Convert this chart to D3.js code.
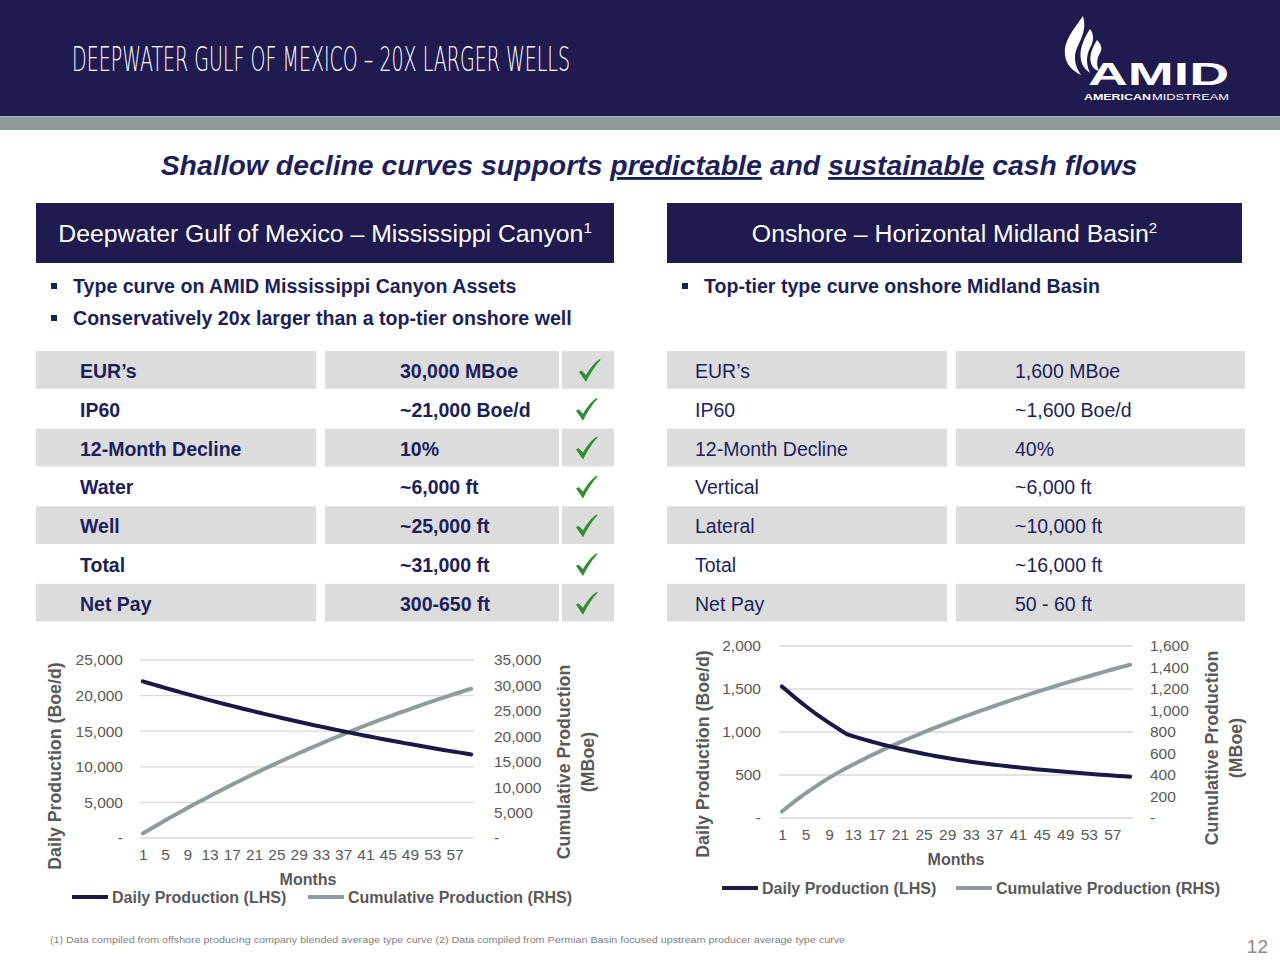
<!DOCTYPE html>
<html><head><meta charset="utf-8">
<script src="https://cdn.jsdelivr.net/npm/d3@7"></script>
<style>body{margin:0;background:#fff}svg{display:block}</style>
</head><body>
<svg id="slide" width="1280" height="960"></svg>
<script>
// ---------- DATA ----------
const months = d3.range(1, 61);
const monthTickLabels = [1,5,9,13,17,21,25,29,33,37,41,45,49,53,57];

const gomDaily = [22000,21770,21540,21310,21080,20860,20640,20420,20200,19990,
  19780,19570,19360,19160,18950,18750,18550,18360,18160,17970,
  17780,17590,17400,17220,17040,16860,16680,16500,16330,16150,
  15980,15810,15640,15480,15310,15150,14990,14830,14680,14520,
  14370,14210,14060,13910,13770,13620,13480,13330,13190,13050,
  12910,12780,12640,12510,12370,12240,12110,11990,11860,11730];
const gomCumulative = [900,1540,2180,2810,3440,4060,4670,5280,5880,6470,
  7060,7640,8220,8790,9350,9910,10460,11010,11550,12090,
  12620,13140,13660,14170,14680,15180,15680,16170,16660,17140,
  17620,18090,18560,19020,19480,19930,20380,20820,21260,21690,
  22120,22540,22960,23370,23780,24180,24580,24970,25360,25750,
  26130,26500,26870,27240,27600,27960,28310,28660,29010,29350];
const gomLeftTicks = [0,5000,10000,15000,20000,25000];
const gomRightTicks = [0,5000,10000,15000,20000,25000,30000,35000];

const midDaily = [1530,1470,1412,1356,1302,1250,1200,1152,1106,1062,
  1018,975,953,932,912,892,873,855,838,821,
  805,790,775,761,747,734,721,709,697,686,
  675,665,655,646,637,628,620,612,604,596,
  589,582,575,568,561,555,549,543,537,531,
  525,519,514,509,504,499,494,489,485,481];
const midCumulative = [60,105,148,189,229,267,304,339,373,406,
  437,467,496,524,552,579,605,631,656,680,
  704,728,751,774,797,819,841,862,883,904,
  925,945,965,985,1004,1023,1042,1061,1080,1098,
  1116,1134,1152,1170,1187,1204,1221,1238,1255,1271,
  1287,1303,1319,1335,1350,1366,1381,1396,1411,1426];
const midLeftTicks = [0,500,1000,1500,2000];
const midRightTicks = [0,200,400,600,800,1000,1200,1400,1600];

const gomRowLabels = ["EUR\u2019s","IP60","12-Month Decline","Water","Well","Total","Net Pay"];
const gomRowValues = ["30,000 MBoe","~21,000 Boe/d","10%","~6,000 ft","~25,000 ft","~31,000 ft","300-650 ft"];
const midRowLabels = ["EUR\u2019s","IP60","12-Month Decline","Vertical","Lateral","Total","Net Pay"];
const midRowValues = ["1,600 MBoe","~1,600 Boe/d","40%","~6,000 ft","~10,000 ft","~16,000 ft","50 - 60 ft"];

const legendLabels = ["Daily Production (LHS)","Cumulative Production (RHS)"];

// ---------- STYLE ----------
const NAVY = "#1f1a50", TXT = "#1d1f5c", GREY = "#595959", GRID = "#d9d9d9",
      LINE1 = "#1c1846", LINE2 = "#8f9b9d", ROWBG = "#dcdcdc", GREEN = "#2f8f2f";
const SANS = "'Liberation Sans', Arial, Helvetica, sans-serif";

const svg = d3.select("#slide");

// header
svg.append("rect").attr("x",0).attr("y",0).attr("width",1280).attr("height",116).attr("fill",NAVY);
svg.append("rect").attr("x",0).attr("y",116).attr("width",1280).attr("height",14).attr("fill","#8e999b");
svg.append("rect").attr("x",0).attr("y",116).attr("width",1280).attr("height",1.5).attr("fill","#a7b0b3");
svg.append("text").attr("x",72).attr("y",71)
  .attr("font-family","'DejaVu Sans', sans-serif").attr("font-weight",200)
  .attr("font-size",33).attr("fill","#fff")
  .attr("textLength",498).attr("lengthAdjust","spacingAndGlyphs")
  .text("DEEPWATER GULF OF MEXICO \u2013 20X LARGER WELLS");

// logo
const logo = svg.append("g").attr("fill","#fff");
logo.append("path").attr("d","M1083,16 C1073,30 1063,42 1065,55 C1066,65 1073,71 1081,75 C1075,66 1073,57 1077,48 C1081,39 1087,29 1083,16 Z");
logo.append("path").attr("d","M1090,29 C1083,40 1079,50 1081,60 C1082,66 1086,70 1090,73 C1086,64 1086,56 1090,48 C1094,41 1094,34 1090,29 Z");
logo.append("path").attr("d","M1097,40 C1092,48 1089,56 1091,63 C1092,67 1095,70 1099,71 C1096,64 1097,58 1100,53 C1103,49 1101,44 1097,40 Z");
logo.append("text").attr("x",1088).attr("y",85).attr("font-family",SANS)
  .attr("font-weight","bold").attr("font-size",32).attr("textLength",141).attr("lengthAdjust","spacingAndGlyphs").text("AMID");
logo.append("text").attr("x",1084).attr("y",100).attr("font-family",SANS).attr("font-size",8.5).attr("font-weight","bold")
  .attr("textLength",67).attr("lengthAdjust","spacingAndGlyphs").text("AMERICAN");
logo.append("text").attr("x",1152).attr("y",100).attr("font-family",SANS).attr("font-size",8.5)
  .attr("textLength",77).attr("lengthAdjust","spacingAndGlyphs").text("MIDSTREAM");

// subtitle
const sub = svg.append("text").attr("x",649).attr("y",175).attr("text-anchor","middle")
  .attr("font-family",SANS).attr("font-weight","bold").attr("font-style","italic")
  .attr("font-size",28.4).attr("fill",TXT);
sub.append("tspan").text("Shallow decline curves supports ");
sub.append("tspan").style("text-decoration","underline").text("predictable");
sub.append("tspan").text(" and ");
sub.append("tspan").style("text-decoration","underline").text("sustainable");
sub.append("tspan").text(" cash flows");

// section headers
function sectionHeader(x, w, label, sup) {
  svg.append("rect").attr("x",x).attr("y",203).attr("width",w).attr("height",60).attr("fill",NAVY);
  const t = svg.append("text").attr("x",x + w/2).attr("y",242).attr("text-anchor","middle")
    .attr("font-family",SANS).attr("font-size",24.8).attr("fill","#fff");
  t.append("tspan").text(label);
  t.append("tspan").attr("font-size",15).attr("dy",-9).text(sup);
}
sectionHeader(36, 578, "Deepwater Gulf of Mexico \u2013 Mississippi Canyon", "1");
sectionHeader(667, 575, "Onshore \u2013 Horizontal Midland Basin", "2");

// bullets
function bullet(x, y, label) {
  svg.append("rect").attr("x",x).attr("y",y-10).attr("width",6).attr("height",6).attr("fill",TXT);
  svg.append("text").attr("x",x+22).attr("y",y).attr("font-family",SANS).attr("font-weight","bold")
    .attr("font-size",19.6).attr("fill",TXT).text(label);
}
bullet(51, 293, "Type curve on AMID Mississippi Canyon Assets");
bullet(51, 325, "Conservatively 20x larger than a top-tier onshore well");
bullet(682, 293, "Top-tier type curve onshore Midland Basin");

// tables
const rowTop = 351, rowH = 38.8;
function checkMark(cx, cy) {
  svg.append("path").attr("fill",GREEN)
    .attr("d",`M${cx-10},${cy+1} L${cx-7.5},${cy-0.5} L${cx-3},${cy+4} C${cx+1},${cy-3} ${cx+6},${cy-9} ${cx+11},${cy-12} L${cx+11.5},${cy-11} C${cx+6},${cy-5} ${cx+1},${cy+3} ${cx-3},${cy+11} Z`);
}
function table(cols, labels, values, bold, checks) {
  labels.forEach((lab, i) => {
    const y = rowTop + i*rowH;
    if (i % 2 === 0) {
      cols.forEach(c => svg.append("rect").attr("x",c.x).attr("y",y).attr("width",c.w).attr("height",rowH-1).attr("fill",ROWBG));
    }
    svg.append("text").attr("x",cols[0].tx).attr("y",y+27).attr("font-family",SANS)
      .attr("font-weight",bold?"bold":"normal").attr("font-size",19.5).attr("fill",TXT).text(lab);
    svg.append("text").attr("x",cols[1].tx).attr("y",y+27).attr("font-family",SANS)
      .attr("font-weight",bold?"bold":"normal").attr("font-size",19.5).attr("fill",TXT).text(values[i]);
    if (checks) checkMark(i === 0 ? 589 : 586, y + 20);
  });
}
table([{x:36,w:280,tx:80},{x:325,w:234,tx:400},{x:562,w:52}], gomRowLabels, gomRowValues, true, true);
table([{x:667,w:280,tx:695},{x:956,w:289,tx:1015}], midRowLabels, midRowValues, false, false);

// charts
const fmt = v => v === 0 ? "-" : d3.format(",")(v);
function chart(c) {
  const g = svg.append("g");
  const x = d3.scaleLinear().domain([0.5, 60.5]).range([c.x0, c.x1]);
  const yL = d3.scaleLinear().domain([0, c.leftTicks[c.leftTicks.length-1]]).range([c.yB, c.yT]);
  const yR = d3.scaleLinear().domain([0, c.rightTicks[c.rightTicks.length-1]]).range([c.yB, c.yT]);
  g.selectAll(".grid").data(c.leftTicks).join("line")
    .attr("x1",c.x0).attr("x2",c.x1).attr("y1",d=>yL(d)).attr("y2",d=>yL(d))
    .attr("stroke",GRID).attr("stroke-width",1.3);
  const la = g.append("g").attr("transform",`translate(${c.x0 - c.lPad},0)`)
    .call(d3.axisLeft(yL).tickValues(c.leftTicks).tickFormat(fmt).tickSize(0).tickPadding(0));
  const ra = g.append("g").attr("transform",`translate(${c.x1 + c.rPad},0)`)
    .call(d3.axisRight(yR).tickValues(c.rightTicks).tickFormat(fmt).tickSize(0).tickPadding(0));
  const xa = g.append("g").attr("transform",`translate(0,${c.yB + 11})`)
    .call(d3.axisBottom(x).tickValues(monthTickLabels).tickFormat(d3.format("d")).tickSize(0).tickPadding(0));
  [la, ra, xa].forEach(a => {
    a.select(".domain").remove();
    a.selectAll("text").attr("font-family",SANS).attr("font-size",15.5).attr("fill",GREY);
  });
  const line = (ys) => d3.line().x((d,i)=>x(months[i])).y(d=>ys(d));
  g.append("path").datum(c.cum).attr("d",line(yR)).attr("fill","none").attr("stroke",LINE2).attr("stroke-width",4).attr("stroke-linecap","round");
  g.append("path").datum(c.daily).attr("d",line(yL)).attr("fill","none").attr("stroke",LINE1).attr("stroke-width",4).attr("stroke-linecap","round");
  const tStyle = s => s.attr("font-family",SANS).attr("font-weight","bold").attr("font-size",17.8).attr("fill",GREY).attr("text-anchor","middle");
  g.append("text").call(tStyle).attr("transform",`translate(${c.ltX},${c.ltY}) rotate(-90)`).text("Daily Production (Boe/d)");
  g.append("text").call(tStyle).attr("transform",`translate(${c.rtX},${c.rtY}) rotate(-90)`).text("Cumulative Production");
  g.append("text").call(tStyle).attr("transform",`translate(${c.rtX+24},${c.rtY}) rotate(-90)`).text("(MBoe)");
  g.append("text").call(tStyle).attr("font-size",16).attr("x",c.monthsX).attr("y",c.yB + 47).text("Months");
  [[LINE1, c.lg[0]], [LINE2, c.lg[1]]].forEach(([col, lx], i) => {
    g.append("line").attr("x1",lx).attr("x2",lx+36).attr("y1",c.legY).attr("y2",c.legY).attr("stroke",col).attr("stroke-width",4);
    g.append("text").attr("x",lx+40).attr("y",c.legY+5.5).attr("font-family",SANS).attr("font-weight","bold")
      .attr("font-size",16).attr("fill",GREY).text(legendLabels[i]);
  });
}
chart({x0:140, x1:474, yT:660, yB:838, leftTicks:gomLeftTicks, rightTicks:gomRightTicks,
  daily:gomDaily, cum:gomCumulative, lPad:17, rPad:20, ltX:61, ltY:766, rtX:570, rtY:762,
  monthsX:308, legY:897, lg:[72,308]});
chart({x0:779, x1:1133, yT:646, yB:818, leftTicks:midLeftTicks, rightTicks:midRightTicks,
  daily:midDaily, cum:midCumulative, lPad:18, rPad:17, ltX:709, ltY:754, rtX:1218, rtY:748,
  monthsX:956, legY:888, lg:[722,956]});

// footer
svg.append("text").attr("x",50).attr("y",943).attr("font-family",SANS).attr("font-size",9.5).attr("fill","#7f7f7f")
  .attr("textLength",795).attr("lengthAdjust","spacingAndGlyphs")
  .text("(1) Data compiled from offshore producing company blended average type curve (2) Data compiled from Permian Basin focused upstream producer average type curve");
svg.append("text").attr("x",1268).attr("y",953).attr("text-anchor","end").attr("font-family",SANS)
  .attr("font-size",19).attr("fill","#8a8a8a").text("12");
</script>
</body></html>
